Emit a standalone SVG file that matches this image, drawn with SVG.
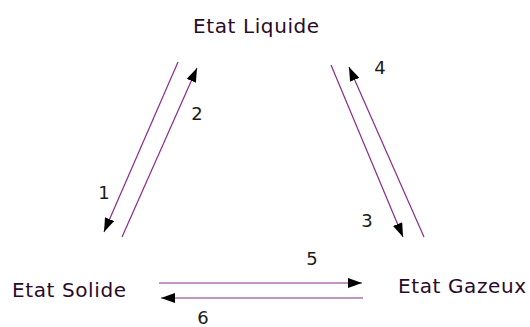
<svg xmlns="http://www.w3.org/2000/svg" width="530" height="327" viewBox="0 0 530 327">
<style>
.t{font-family:"DejaVu Sans",sans-serif;font-size:20px;letter-spacing:0.6px;fill:#2a0a2a}
.n{font-family:"DejaVu Sans",sans-serif;font-size:18px;fill:#1a1a1a}
.c{stroke:#8a2a8a;stroke-width:1.2;fill:none;marker-end:url(#ah)}
</style>
<defs>
<marker id="ah" viewBox="0 0 14 10" refX="14" refY="5" markerWidth="14" markerHeight="10" markerUnits="userSpaceOnUse" orient="auto">
<path d="M0,0 L14,5 L0,10 Z" fill="#000"/>
</marker>
</defs>
<rect width="530" height="327" fill="#fff"/>
<g id="liquide"><text class="t" x="193" y="33">Etat Liquide</text></g>
<g id="solide"><text class="t" x="12" y="297">Etat Solide</text></g>
<g id="gazeux"><text class="t" x="398" y="293">Etat Gazeux</text></g>
<g id="connectors">
<line class="c" x1="178" y1="62" x2="104" y2="232"/>
<line class="c" x1="122" y1="237" x2="197" y2="68"/>
<line class="c" x1="331" y1="65" x2="403" y2="237"/>
<line class="c" x1="424" y1="237" x2="349" y2="67"/>
<line class="c" x1="159" y1="283" x2="362" y2="283"/>
<line class="c" x1="363" y1="298" x2="161" y2="298"/>
<text class="n" x="104" y="199" text-anchor="middle">1</text>
<text class="n" x="197" y="120" text-anchor="middle">2</text>
<text class="n" x="367" y="227" text-anchor="middle">3</text>
<text class="n" x="380" y="74" text-anchor="middle">4</text>
<text class="n" x="312" y="265" text-anchor="middle">5</text>
<text class="n" x="203" y="324" text-anchor="middle">6</text>
</g>
</svg>
